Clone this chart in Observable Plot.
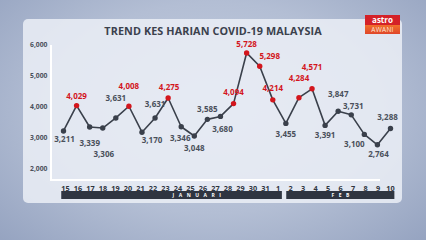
<!DOCTYPE html>
<html>
<head>
<meta charset="utf-8">
<script src="https://cdn.jsdelivr.net/npm/d3@7"></script>
<script src="https://cdn.jsdelivr.net/npm/@observablehq/plot@0.6"></script>
<style>
html, body { margin: 0; padding: 0; }
#wrap { position: relative; width: 426px; height: 240px; overflow: hidden;
  background: radial-gradient(ellipse 70% 80% at 50% 45%, #c4cee0 0%, #b3bed4 55%, #95a3c0 100%);
  font-family: "Open Sans", sans-serif; }
#panel { position: absolute; left: 23px; top: 19px; width: 379px; height: 184px; border-radius: 5px;
  background: rgba(236, 240, 247, 0.84); }
#title { position: absolute; left: 0; width: 426px; top: 23px; text-align: center; font-weight: 700;
  font-size: 10.8px; line-height: 15px; color: #3b414d; letter-spacing: 0.1px; }
#logo { position: absolute; left: 365px; top: 15px; width: 35px; }
#logo .a { height: 10px; background: #d42128; color: #fff; font-size: 8px; font-weight: 700; text-align: center; line-height: 9px; }
#logo .b { height: 9px; background: linear-gradient(#f2702c, #df462a); color: #fde6d6; font-size: 6.5px; text-align: center; line-height: 9px; letter-spacing: 0.3px; }
.vline { position: absolute; left: 50px; top: 45px; width: 1.5px; height: 135px; background: #ffffff; }
.hline { position: absolute; left: 50px; top: 179px; width: 330px; height: 1.5px; background: #ffffff; }
.chart { position: absolute; left: 0; }
</style>
</head>
<body>
<div id="wrap">
  <div id="panel"></div>
  <div id="title">TREND KES HARIAN COVID-19 MALAYSIA</div>
  <div id="logo"><div class="a">astro</div><div class="b">AWANI</div></div>
  <div class="vline"></div>
  <div class="hline"></div>
  <div id="main" class="chart" style="top:0"></div>
  <div id="axis" class="chart" style="top:178px"></div>
</div>
<script>
// ---- data ----
const dates = ["15","16","17","18","19","20","21","22","23","24","25","26","27","28","29","30","31",
               "1","2","3","4","5","6","7","8","9","10"];
const cases = [3211, 4029, 3339, 3306, 3631, 4008, 3170, 3631, 4275, 3346, 3048, 3585, 3680,
               4094, 5728, 5298, 4214, 3455, 4284, 4571, 3391, 3847, 3731, 3100, 2764, 3288];
const yTicks = [2000, 3000, 4000, 5000, 6000];
const months = ["JANUARI", "FEB"];
const monthFirst = ["15", "2"];
const monthLast = ["1", "10"];
const highlightAbove = 4000;

// ---- annotation layout (pixel offsets of value labels) ----
const labelDx = [1, 0, 0, 1, 0, 0, 10, 0, 1, -1, 0, 0, 2, 0, 0, 10, 0, 0, 0, 0, 0, 0, 2, -10, 1, -3];
const labelDy = [8, -9, 16, 26, -20, -20, 8, -14, -11, 12, 12, -10, 13, -11, -8, -10, -11, 11, -19, -21, 10, -17, -8, 10, 10, -11];
const monthShift = [2, 0];

const DARK = "#3a404b", RED = "#d3161d", GREYTXT = "#4a505b";
const fmt = d3.format(",");
const idx = d3.range(cases.length);

const labelMarks = idx.map(i => Plot.text([i], {
  x: d => d, y: d => cases[d], text: d => fmt(cases[d]),
  dx: labelDx[i], dy: labelDy[i],
  fill: cases[i] > highlightAbove ? RED : GREYTXT,
  fontSize: 8, fontWeight: 700
}));

const main = Plot.plot({
  width: 426, height: 240,
  marginLeft: 63, marginRight: 36, marginTop: 44, marginBottom: 72,
  x: { domain: [0, cases.length - 1], axis: null },
  y: { domain: [2000, 6000], axis: null },
  style: { background: "transparent", overflow: "visible", color: GREYTXT, fontFamily: "Open Sans" },
  marks: [
    Plot.axisY({ ticks: yTicks, tickSize: 0, tickPadding: 16, tickFormat: fmt, fontSize: 6.8, fontWeight: 700 }),
    Plot.line(idx, { x: i => i, y: i => cases[i], stroke: DARK, strokeWidth: 1.6 }),
    Plot.dot(idx, { filter: i => cases[i] <= highlightAbove, x: i => i, y: i => cases[i], r: 2.7, fill: DARK, stroke: "none" }),
    Plot.dot(idx, { filter: i => cases[i] > highlightAbove, x: i => i, y: i => cases[i], r: 2.7, fill: RED, stroke: "none" }),
    ...labelMarks
  ]
});
document.getElementById("main").appendChild(main);

const axis = Plot.plot({
  width: 426, height: 24,
  marginLeft: 65, marginRight: 36, marginTop: 13, marginBottom: 3,
  x: { domain: [0, dates.length - 1], axis: null },
  style: { background: "transparent", overflow: "visible", fontFamily: "Open Sans" },
  marks: [
    Plot.text(dates, { x: (d, i) => i, text: d => d, frameAnchor: "top", dy: -6, fontSize: 7.3, fontWeight: 700, fill: "#2f3540" }),
    Plot.rect(months, { x1: (m, i) => dates.indexOf(monthFirst[i]) - 0.3, x2: (m, i) => dates.indexOf(monthLast[i]) + 0.35, fill: "#2f3541" }),
    Plot.text(months, {
      x: (m, i) => (dates.indexOf(monthFirst[i]) + dates.indexOf(monthLast[i])) / 2 + monthShift[i],
      text: m => m, fill: "#ffffff", fontSize: 5, fontWeight: 700, dx: 2.2
    })
  ]
});
d3.select(axis).selectAll("text")
  .filter(function () { return months.includes(this.textContent); })
  .style("letter-spacing", "4.5px");
document.getElementById("axis").appendChild(axis);
</script>
</body>
</html>
